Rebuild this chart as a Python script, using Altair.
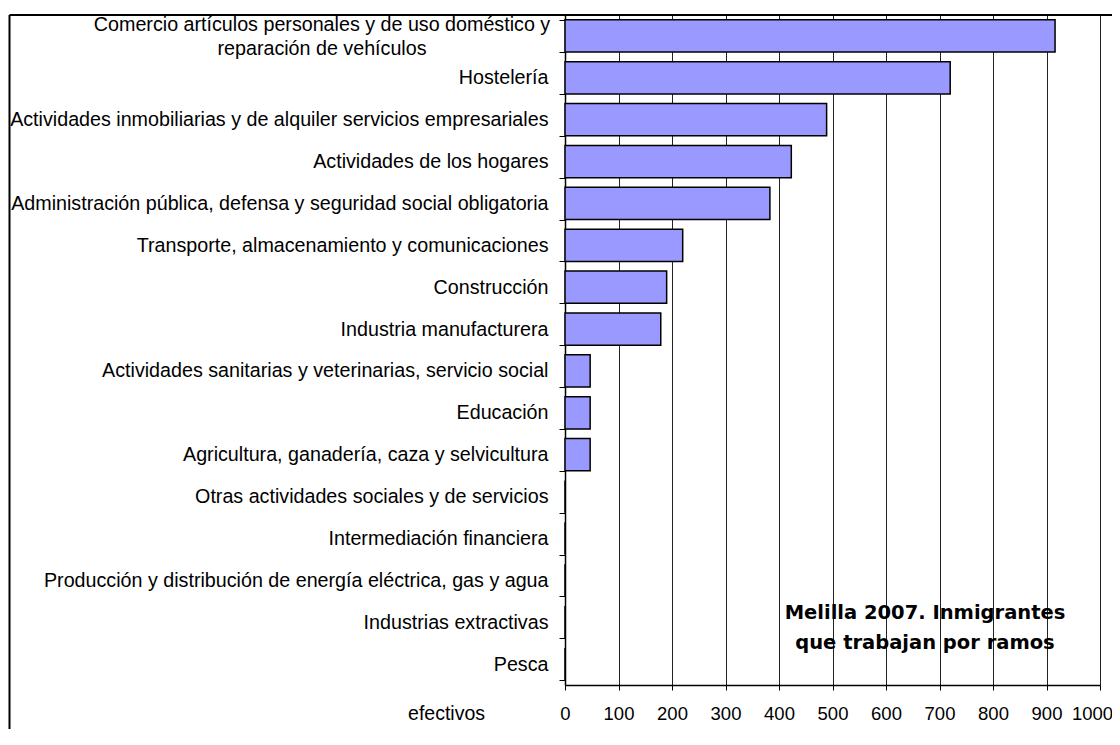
import altair as alt
import pandas as pd

categories = [
    "Comercio artículos personales y de uso doméstico y\nreparación de vehículos",
    "Hostelería",
    "Actividades inmobiliarias y de alquiler servicios empresariales",
    "Actividades de los hogares",
    "Administración pública, defensa y seguridad social obligatoria",
    "Transporte, almacenamiento y comunicaciones",
    "Construcción",
    "Industria manufacturera",
    "Actividades sanitarias y veterinarias, servicio social",
    "Educación",
    "Agricultura, ganadería, caza y selvicultura",
    "Otras actividades sociales y de servicios",
    "Intermediación financiera",
    "Producción y distribución de energía eléctrica, gas y agua",
    "Industrias extractivas",
    "Pesca",
]
values = [916, 720, 489, 423, 383, 220, 190, 179, 47, 47, 47, 0, 0, 0, 0, 0]
x_ticks = [0, 100, 200, 300, 400, 500, 600, 700, 800, 900, 1000]
x_title = "efectivos"
chart_title = "Melilla 2007. Inmigrantes\nque trabajan por ramos"

FONT = "Liberation Sans"
W, H = 535, 670
PAD_R = 12

df = pd.DataFrame({"cat": categories, "val": values})

y_enc = alt.Y(
    "cat:N",
    sort=categories,
    scale=alt.Scale(paddingInner=0.23, paddingOuter=0.115),
    axis=alt.Axis(
        title=None,
        labelFontSize=19.7,
        labelFont=FONT,
        labelColor="black",
        labelLimit=0,
        labelPadding=11,
        tickSize=6,
        tickColor="black",
        tickBand="extent",
        domainColor="black",
        domainWidth=1.5,
        grid=False,
        labelExpr="indexof(datum.label, 'Comercio') == 0 ? '' : datum.label",
    ),
)

bars = alt.Chart(df).mark_bar(
    color="#9999FF", stroke="black", strokeWidth=1.5
).encode(
    x=alt.X(
        "val:Q",
        scale=alt.Scale(domain=[0, 1000], nice=False),
        axis=alt.Axis(
            values=x_ticks,
            format="d",
            labelOverlap=False,
            labelFlush=False,
            labelOffset={"condition": {"test": "datum.value == 1000", "value": -8}, "value": 0},
            grid=True,
            gridColor="#222222",
            gridWidth=1,
            tickSize=5,
            tickColor="black",
            domainColor="black",
            domainWidth=1.5,
            labelFontSize=18.5,
            labelFont=FONT,
            labelColor="black",
            labelPadding=14,
            title=x_title,
            titleFont=FONT,
            titleFontSize=19.5,
            titleFontWeight="normal",
            titleColor="black",
            titleX=-119,
            titleY=28,
            titleAlign="center",
            titleBaseline="middle",
        ),
    ),
    y=y_enc,
)

first_label = alt.Chart(df.iloc[[0]]).mark_text(
    font=FONT, fontSize=19.7, color="black", align="center",
    baseline="middle", lineBreak="\n", lineHeight=24, dy=-11,
).encode(
    y=alt.Y("cat:N", sort=categories),
    x=alt.value(-243),
    text="cat:N",
)

title_text = alt.Chart(pd.DataFrame({"t": [chart_title]})).mark_text(
    font="DejaVu Sans", fontSize=19.5, fontWeight="bold", color="black", align="center",
    baseline="middle", lineBreak="\n", lineHeight=30,
).encode(
    x=alt.value(360),
    y=alt.value(598),
    text="t:N",
)

frame_top = alt.Chart(pd.DataFrame({"a": [0]})).mark_rule(
    color="black", strokeWidth=2
).encode(x=alt.value(-555.5), x2=alt.value(W + PAD_R), y=alt.value(0))

frame_left = alt.Chart(pd.DataFrame({"a": [0]})).mark_rule(
    color="black", strokeWidth=2
).encode(x=alt.value(-555.5), y=alt.value(0), y2=alt.value(H + 44))

chart = alt.layer(bars, first_label, title_text, frame_top, frame_left).properties(
    width=W,
    height=H,
    autosize=alt.AutoSizeParams(type="none"),
    padding={"left": 557, "top": 7, "right": PAD_R, "bottom": 44},
    background="white",
).configure_view(stroke=None)

chart.save("out.html", embed_options={"renderer": "svg", "actions": False})
